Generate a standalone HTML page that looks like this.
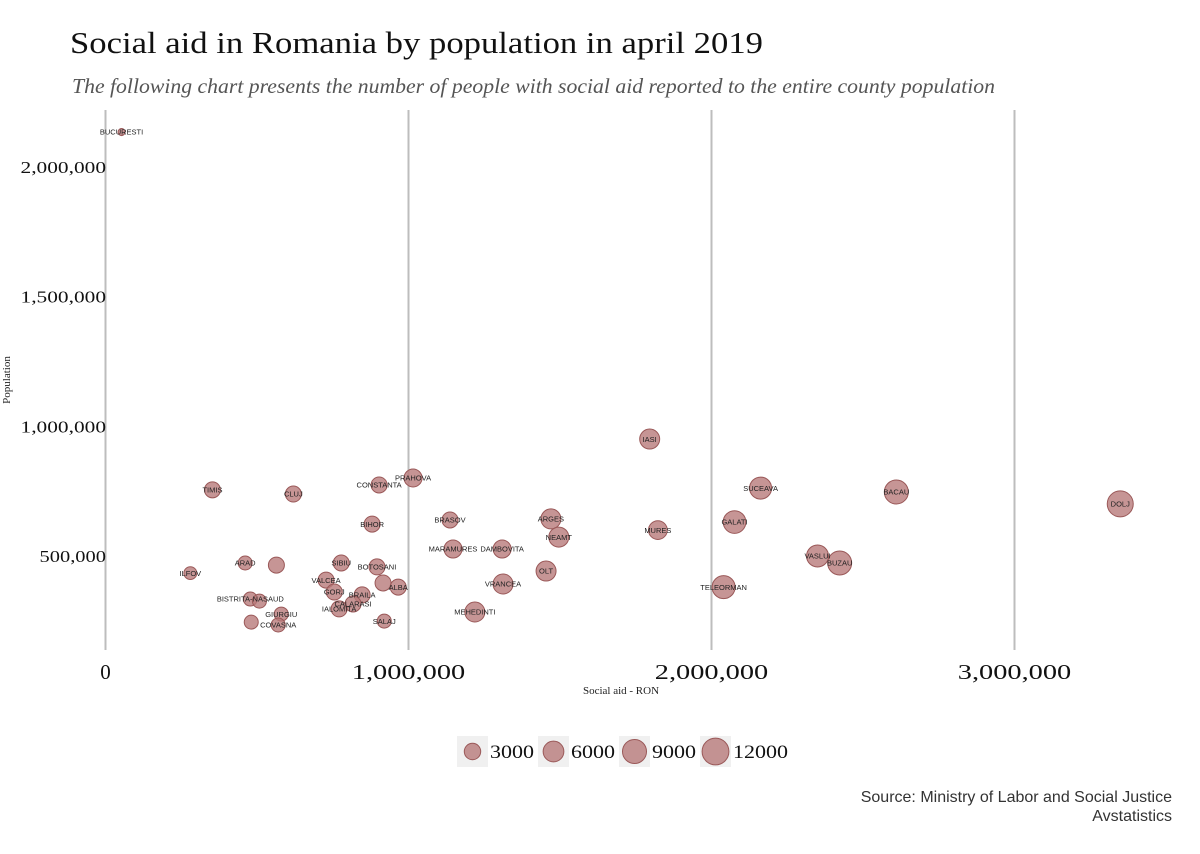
<!DOCTYPE html>
<html><head><meta charset="utf-8">
<style>
html,body{margin:0;padding:0;background:#fff;}
svg{display:block;}
.serif{font-family:"Liberation Serif",serif;}
.lbl{font-family:"Liberation Sans",sans-serif;font-size:7.5px;fill:#222;}
</style></head>
<body>
<svg id="chart" width="1200" height="854" viewBox="0 0 1200 854" xmlns="http://www.w3.org/2000/svg">
<text class="serif" x="70" y="53" font-size="31" fill="#111" textLength="693" lengthAdjust="spacingAndGlyphs">Social aid in Romania by population in april 2019</text>
<text class="serif" x="72" y="93" font-size="21" font-style="italic" fill="#555" textLength="923" lengthAdjust="spacingAndGlyphs">The following chart presents the number of people with social aid reported to the entire county population</text>
<g id="grid"></g>
<g id="yticks"></g>
<g id="xticks"></g>
<g id="points"></g>
<text class="serif" x="621" y="694" font-size="11" text-anchor="middle" fill="#222">Social aid  - RON</text>
<text class="serif" font-size="11" text-anchor="middle" fill="#222" transform="translate(10,380) rotate(-90)">Population</text>
<g id="legend"></g>
<text x="1172" y="802" font-family="Liberation Sans, sans-serif" font-size="16" fill="#333" text-anchor="end">Source: Ministry of Labor and Social Justice</text>
<text x="1172" y="821" font-family="Liberation Sans, sans-serif" font-size="16" fill="#333" text-anchor="end">Avstatistics</text>
</svg>
<script>
const counties = ["BUCURESTI","TIMIS","CLUJ","CONSTANTA","PRAHOVA","BIHOR","ARAD","","ILFOV","SIBIU","BOTOSANI","","ALBA","VALCEA","GORJ","BRAILA","CALARASI","IALOMITA","BISTRITA-NASAUD","","GIURGIU","","COVASNA","SALAJ","BRASOV","MARAMURES","DAMBOVITA","ARGES","NEAMT","OLT","VRANCEA","MEHEDINTI","IASI","MURES","GALATI","SUCEAVA","TELEORMAN","VASLUI","BUZAU","BACAU","DOLJ"];
const socialAid = [53000,353000,620000,903000,1015000,880000,461000,564000,280000,778000,896000,916000,966000,728000,755000,847000,817000,771000,478000,508000,580000,481000,570000,920000,1137000,1147000,1309000,1470000,1496000,1454000,1312000,1219000,1796000,1823000,2076000,2162000,2040000,2350000,2423000,2610000,3349000];
const population = [2135000,755000,739000,774000,801000,623000,473000,465000,434000,473000,458000,396000,380000,407000,361000,350000,315000,296000,334000,326000,276000,245000,234000,249000,639000,527000,527000,643000,573000,442000,392000,284000,951000,600000,631000,762000,380000,500000,473000,747000,701000];
const beneficiaries = [30,2770,2770,2770,3989,2770,1773,2770,1300,2770,2770,2770,2770,2770,2770,2770,2770,2770,1773,1773,1773,1773,1773,1773,2770,3989,3989,5429,5429,5429,5429,5429,5429,4500,7700,7091,8000,7091,8975,8975,11080];
const xTicks = [0,1000000,2000000,3000000];
const xTickLabels = ["0","1,000,000","2,000,000","3,000,000"];
const yTicks = [500000,1000000,1500000,2000000];
const yTickLabels = ["500,000","1,000,000","1,500,000","2,000,000"];
const legendValues = [3000,6000,9000,12000];
const legendLabels = ["3000","6000","9000","12000"];

const NS="http://www.w3.org/2000/svg";
const xs = v => 105.5 + v/1e6*303;
const ys = v => 685.65 - v*0.0002593;
const rs = s => 3 + 0.095*Math.sqrt(s);
function mk(tag, attrs, parent){const e=document.createElementNS(NS,tag);for(const k in attrs)e.setAttribute(k,attrs[k]);parent.appendChild(e);return e;}

const grid=document.getElementById('grid');
xTicks.forEach((t,i)=>{
  const l=mk('line',{x1:xs(t),x2:xs(t),y1:110,y2:650,stroke:'#bdbdbd','stroke-width':2},grid);
  
  
  const lab=xTickLabels[i];
  const attrs={x:xs(t),y:679,'text-anchor':'middle','font-size':21,fill:'#111',class:'serif'};
  if(lab.length>1){attrs.textLength=lab.length*12.6;attrs.lengthAdjust='spacingAndGlyphs';}
  const tx=mk('text',attrs,document.getElementById('xticks'));
  tx.textContent=lab;
  
  
});
yTicks.forEach((t,i)=>{
  const lab=yTickLabels[i];
  const tx=mk('text',{x:106,y:ys(t)+6,'text-anchor':'end','font-size':17,fill:'#111',class:'serif',textLength:lab.length*9.5,lengthAdjust:'spacingAndGlyphs'},document.getElementById('yticks'));
  tx.textContent=lab;
  
  
});
const pg=document.getElementById('points');
counties.forEach((c,i)=>{
  const cx=xs(socialAid[i]), cy=ys(population[i]);
  const ci=mk('circle',{cx:cx,cy:cy,r:rs(beneficiaries[i]),fill:'#b87a7a','fill-opacity':0.8,stroke:'#9a5858','stroke-width':1},pg);
  
  
});
counties.forEach((c,i)=>{
  if(!c) return;
  const t=mk('text',{x:xs(socialAid[i]),y:ys(population[i])+2.7,'text-anchor':'middle',class:'lbl'},pg);
  t.textContent=c;
  
  
});
const lg=document.getElementById('legend');
const lx=[457,538,619,700];
legendValues.forEach((v,i)=>{
  const r=mk('rect',{x:lx[i],y:736,width:31,height:31,fill:'#f0f0f0'},lg);
  
  
  const c=mk('circle',{cx:lx[i]+15.5,cy:751.5,r:rs(v),fill:'#b87a7a','fill-opacity':0.8,stroke:'#9a5858','stroke-width':1},lg);
  
  
  const t=mk('text',{x:lx[i]+33,y:758,'font-size':19,fill:'#111',class:'serif',textLength:legendLabels[i].length*11,lengthAdjust:'spacingAndGlyphs'},lg);
  t.textContent=legendLabels[i];
  
  
});
</script>
</body></html>
